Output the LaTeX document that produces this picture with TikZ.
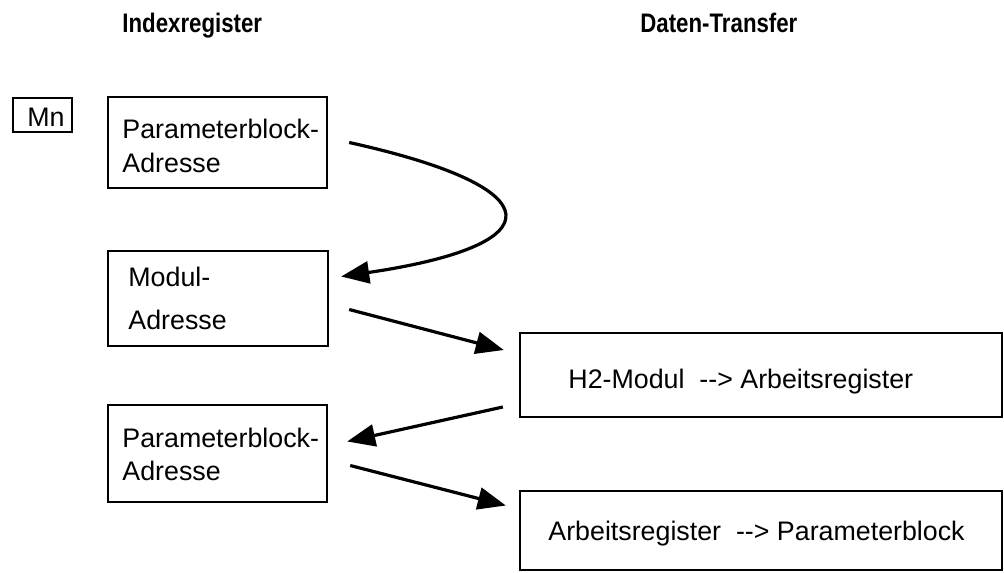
\documentclass[tikz,border=0pt]{standalone}
\usepackage{fontspec}
\setmainfont{Liberation Sans}
\usetikzlibrary{arrows.meta,fit}
\begin{document}
\begin{tikzpicture}[x=0.5pt,y=-0.5pt,
  box/.style={draw, line width=1.2pt, inner sep=0pt},
  txt/.style={anchor=base west, inner sep=0pt, font=\fontsize{13.4}{16}\selectfont},
  hdr/.style={anchor=base west, inner sep=0pt, font=\fontsize{13.4}{16}\selectfont\bfseries},
  flow/.style={line width=1.6pt, -{Triangle[length=14pt,width=11pt]}}]
\useasboundingbox (0,0) rectangle (1004,572);

% column headings
\node[hdr] (hIdx) at (122,33) {\scalebox{0.83}[1]{Indexregister}};
\node[hdr] (hDat) at (640,33) {\scalebox{0.83}[1]{Daten-Transfer}};

% marker
\node[box, fit={(13,98) (72,132)}] (mn) {};
\node[txt] (mnT) at (27,127) {Mn};

% index register boxes
\node[box, fit={(108,97) (327,188)}] (b1) {};
\node[txt] (b1a) at (122,139) {Parameterblock-};
\node[txt] (b1b) at (122,173) {Adresse};

\node[box, fit={(108,251) (328,346)}] (b2) {};
\node[txt] (b2a) at (128,286) {Modul-};
\node[txt] (b2b) at (128,329) {Adresse};

\node[box, fit={(108,405) (327,502)}] (b3) {};
\node[txt] (b3a) at (122,447) {Parameterblock-};
\node[txt] (b3b) at (122,480) {Adresse};

% data transfer boxes
\node[box, fit={(520,333) (1002,417)}] (h2) {};
\node[txt] (h2T) at (568,388) {H2-Modul\ \ -{}-> Arbeitsregister};

\node[box, fit={(520,491) (1002,570)}] (arb) {};
\node[txt] (arbT) at (548,540) {Arbeitsregister\ \ -{}-> Parameterblock};

% flow arrows
\draw[flow] ([shift={(21,0)}]b1.east) .. controls (555,188) and (555,245) .. ([shift={(12,-22)}]b2.east);
\draw[flow] ([shift={(20,11)}]b2.east) -- ([shift={(-15,-25)}]h2.west);
\draw[flow] ([shift={(-16,32)}]h2.west) -- ([shift={(19,-12)}]b3.east);
\draw[flow] ([shift={(22,12)}]b3.east) -- ([shift={(-13,-25)}]arb.west);
\end{tikzpicture}
\end{document}
